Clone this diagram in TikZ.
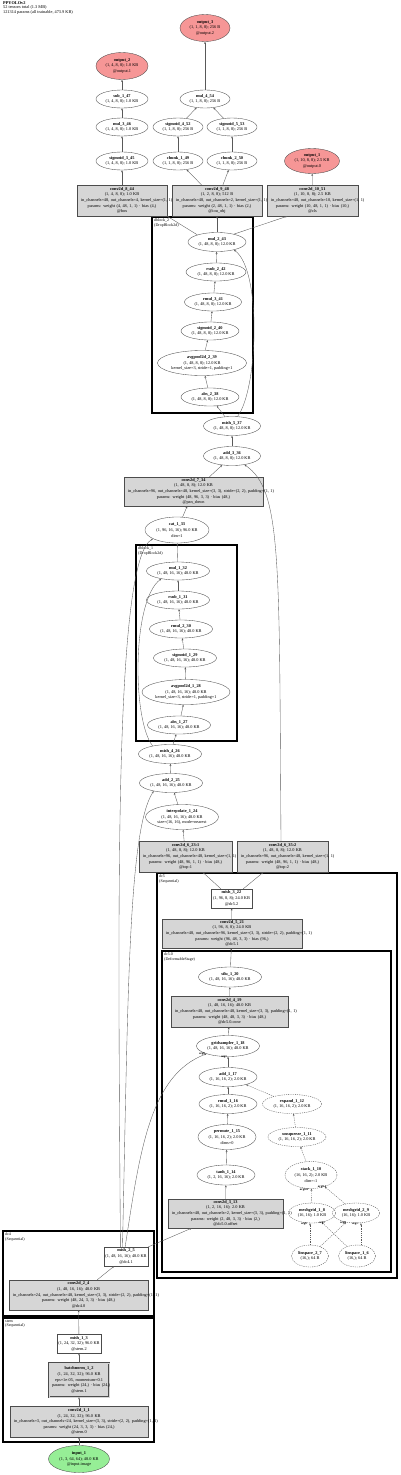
\documentclass[tikz,border=0pt]{standalone}
\usepackage{fontspec}
\setmainfont{Liberation Serif}
\usetikzlibrary{shapes.geometric,arrows.meta}
\definecolor{boxgray}{RGB}{214,214,214}
\definecolor{outred}{RGB}{246,150,150}
\definecolor{ingreen}{RGB}{150,238,150}
\newcommand\fs{\fontsize{4.3}{5.6}\selectfont}
\newcommand\fc{\fontsize{4}{4.4}\selectfont}
\tikzset{
  base/.style={draw=black!70, line width=0.35pt, font=\fs, align=center, inner sep=0pt},
  ell/.style 2 args={base, ellipse, minimum width=#1, minimum height=#2},
  box/.style n args={3}{base, rectangle, fill=boxgray, minimum width=#1pt, text width=#2pt, minimum height=#3pt},
  wbox/.style 2 args={base, rectangle, fill=white, minimum width=#1pt, minimum height=#2pt},
  buf/.style={dashed, dash pattern=on 1.2pt off 1pt},
  edge/.style={draw=black!65, line width=0.35pt, -{Stealth[length=2.2pt,width=1.8pt]}},
  bedge/.style={edge, dash pattern=on 1.2pt off 1pt},
  cluster/.style={draw=black, line width=1.2pt},
  clab/.style={font=\fc, anchor=north west, align=left, inner sep=0pt},
  elab/.style={font=\fontsize{3}{3.2}\selectfont\bfseries, inner sep=0pt}
}
\begin{document}
\begin{tikzpicture}[x=1pt,y=-1pt]
\useasboundingbox (0,0) rectangle (400,1475);
\node[clab, font=\fontsize{4.3}{4.4}\selectfont] (title) at (3,1.5) {\textbf{PPYOLOv2}\\52 tensors total (1.3 MB)\\121314 params (all trainable, 473.9 KB)};

% clusters
\draw[cluster] (152,217) rectangle (253,413);
\node[clab] (lab2) at (154,219) {dblock\_2\\(DropBlock2d)};
\draw[cluster] (136,545) rectangle (237,741);
\node[clab] (lab1) at (138,547) {dblock\_1\\(DropBlock2d)};
\draw[cluster] (157,873) rectangle (397,1278);
\node[clab] (labdc5) at (159,875) {dc5\\(Sequential)};
\draw[cluster] (162,951) rectangle (391,1272);
\node[clab] (labdc50) at (164,953) {dc5.0\\(DeformableStage)};
\draw[cluster] (3,1231) rectangle (154,1316);
\node[clab] (labdc4) at (5,1233) {dc4\\(Sequential)};
\draw[cluster] (3,1318) rectangle (154,1442);
\node[clab] (labstem) at (5,1320) {stem\\(Sequential)};

% top
\node[ell={50}{27}, fill=outred] (o3) at (205,28) {\textbf{output\_3}\\(1, 1, 8, 8); 256 B\\@output.2};
\node[ell={52}{27}, fill=outred] (o2) at (122,66) {\textbf{output\_2}\\(1, 4, 8, 8); 1.0 KB\\@output.1};
\node[ell={52}{18}] (sub47) at (122,99) {\textbf{sub\_1\_47}\\(1, 4, 8, 8); 1.0 KB};
\node[ell={50}{18}] (mul54) at (205,99) {\textbf{mul\_4\_54}\\(1, 1, 8, 8); 256 B};
\node[ell={52}{18}] (mul46) at (122,127) {\textbf{mul\_3\_46}\\(1, 4, 8, 8); 1.0 KB};
\node[ell={50}{18}] (sig52) at (178,127) {\textbf{sigmoid\_4\_52}\\(1, 1, 8, 8); 256 B};
\node[ell={50}{18}] (sig53) at (232,127) {\textbf{sigmoid\_5\_53}\\(1, 1, 8, 8); 256 B};
\node[ell={52}{18}] (sig45) at (122,161) {\textbf{sigmoid\_3\_45}\\(1, 4, 8, 8); 1.0 KB};
\node[ell={50}{18}] (ch49) at (178,161) {\textbf{chunk\_1\_49}\\(1, 1, 8, 8); 256 B};
\node[ell={50}{18}] (ch50) at (232,161) {\textbf{chunk\_2\_50}\\(1, 1, 8, 8); 256 B};
\node[ell={55}{25}, fill=outred] (o1) at (312,161) {\textbf{output\_1}\\(1, 10, 8, 8); 2.5 KB\\@output.0};
\node[box={90}{82}{31}] (c8) at (122,200.5) {\textbf{conv2d\_8\_44}\\(1, 4, 8, 8); 1.0 KB\\\mbox{in\_channels=48, out\_channels=4, kernel\_size=(1, 1)}\\params: weight (4, 48, 1, 1) · bias (4,)\\@box};
\node[box={90}{82}{31}] (c9) at (217,200.5) {\textbf{conv2d\_9\_48}\\(1, 2, 8, 8); 512 B\\\mbox{in\_channels=48, out\_channels=2, kernel\_size=(1, 1)}\\params: weight (2, 48, 1, 1) · bias (2,)\\@iou\_obj};
\node[box={91}{83}{31}] (c10) at (312.5,200.5) {\textbf{conv2d\_10\_51}\\(1, 10, 8, 8); 2.5 KB\\\mbox{in\_channels=48, out\_channels=10, kernel\_size=(1, 1)}\\params: weight (10, 48, 1, 1) · bias (10,)\\@cls};

% dblock_2
\node[ell={58}{19}] (mul43) at (217,242) {\textbf{mul\_2\_43}\\(1, 48, 8, 8); 12.0 KB};
\node[ell={60}{18}] (rsub42) at (216,272) {\textbf{rsub\_2\_42}\\(1, 48, 8, 8); 12.0 KB};
\node[ell={57}{18}] (rmul41) at (213,302) {\textbf{rmul\_3\_41}\\(1, 48, 8, 8); 12.0 KB};
\node[ell={58}{18}] (sig40) at (210,331) {\textbf{sigmoid\_2\_40}\\(1, 48, 8, 8); 12.0 KB};
\node[ell={89}{25}] (avg39) at (202,363) {\textbf{avgpool2d\_2\_39}\\(1, 48, 8, 8); 12.0 KB\\kernel\_size=3, stride=1, padding=1};
\node[ell={58}{18}] (abs38) at (210,397) {\textbf{abs\_2\_38}\\(1, 48, 8, 8); 12.0 KB};
\node[ell={57}{19}] (mish37) at (232,426) {\textbf{mish\_5\_37}\\(1, 48, 8, 8); 12.0 KB};
\node[ell={57}{19}] (add36) at (232,456) {\textbf{add\_3\_36}\\(1, 48, 8, 8); 12.0 KB};
\node[box={139}{131}{29}] (c7) at (193.5,491.5) {\textbf{conv2d\_7\_34}\\(1, 48, 8, 8); 12.0 KB\\\mbox{in\_channels=96, out\_channels=48, kernel\_size=(3, 3), stride=(2, 2), padding=(1, 1)}\\params: weight (48, 96, 3, 3) · bias (48,)\\@pan\_down};
\node[ell={64}{26}] (cat33) at (177,530) {\textbf{cat\_1\_33}\\(1, 96, 16, 16); 96.0 KB\\dim=1};

% dblock_1
\node[ell={63}{18}] (mul32) at (178,571) {\textbf{mul\_1\_32}\\(1, 48, 16, 16); 48.0 KB};
\node[ell={63}{18}] (rsub31) at (178,600) {\textbf{rsub\_1\_31}\\(1, 48, 16, 16); 48.0 KB};
\node[ell={63}{18}] (rmul30) at (181,629) {\textbf{rmul\_2\_30}\\(1, 48, 16, 16); 48.0 KB};
\node[ell={63}{18}] (sig29) at (185,658) {\textbf{sigmoid\_1\_29}\\(1, 48, 16, 16); 48.0 KB};
\node[ell={88}{25}] (avg28) at (186,692) {\textbf{avgpool2d\_1\_28}\\(1, 48, 16, 16); 48.0 KB\\kernel\_size=3, stride=1, padding=1};
\node[ell={63}{18}] (abs27) at (179,725) {\textbf{abs\_1\_27}\\(1, 48, 16, 16); 48.0 KB};
\node[ell={63}{19}] (mish26) at (170,754) {\textbf{mish\_4\_26}\\(1, 48, 16, 16); 48.0 KB};
\node[ell={63}{19}] (add25) at (171,783) {\textbf{add\_2\_25}\\(1, 48, 16, 16); 48.0 KB};
\node[ell={73}{25}] (interp24) at (182,817) {\textbf{interpolate\_1\_24}\\(1, 48, 16, 16); 48.0 KB\\size=(16, 16), mode=nearest};
\node[box={93}{85}{31}] (c6a) at (185.5,856.5) {\textbf{conv2d\_6\_23:1}\\(1, 48, 8, 8); 12.0 KB\\\mbox{in\_channels=96, out\_channels=48, kernel\_size=(1, 1)}\\params: weight (48, 96, 1, 1) · bias (48,)\\@top:1};
\node[box={91}{83}{31}] (c6b) at (282.5,856.5) {\textbf{conv2d\_6\_35:2}\\(1, 48, 8, 8); 12.0 KB\\\mbox{in\_channels=96, out\_channels=48, kernel\_size=(1, 1)}\\params: weight (48, 96, 1, 1) · bias (48,)\\@top:2};

% dc5
\node[wbox={41}{19}] (mish22) at (231.5,898.5) {\textbf{mish\_3\_22}\\(1, 96, 8, 8); 24.0 KB\\@dc5.2};
\node[box={140}{132}{29}] (c5) at (232,933.5) {\textbf{conv2d\_5\_21}\\(1, 96, 8, 8); 24.0 KB\\\mbox{in\_channels=48, out\_channels=96, kernel\_size=(3, 3), stride=(2, 2), padding=(1, 1)}\\params: weight (96, 48, 3, 3) · bias (96,)\\@dc5.1};
\node[ell={63}{20}] (silu20) at (230,977) {\textbf{silu\_1\_20}\\(1, 48, 16, 16); 48.0 KB};
\node[box={117}{109}{31}] (c4) at (229.5,1011.5) {\textbf{conv2d\_4\_19}\\(1, 48, 16, 16); 48.0 KB\\\mbox{in\_channels=48, out\_channels=48, kernel\_size=(3, 3), padding=(1, 1)}\\params: weight (48, 48, 3, 3) · bias (48,)\\@dc5.0.conv};
\node[ell={63}{21}] (gs18) at (228,1046) {\textbf{gridsampler\_1\_18}\\(1, 48, 16, 16); 48.0 KB};
\node[ell={58}{19}] (add17) at (228,1077) {\textbf{add\_1\_17}\\(1, 16, 16, 2); 2.0 KB};
\node[ell={58}{19}] (rmul16) at (228,1104) {\textbf{rmul\_1\_16}\\(1, 16, 16, 2); 2.0 KB};
\node[ell={59}{19}, buf] (exp12) at (292,1104) {\textbf{expand\_1\_12}\\(1, 16, 16, 2); 2.0 KB};
\node[ell={58}{25}] (perm15) at (227,1137) {\textbf{permute\_1\_15}\\(1, 16, 16, 2); 2.0 KB\\dims=0};
\node[ell={58}{19}, buf] (unsq11) at (297,1137) {\textbf{unsqueeze\_1\_11}\\(1, 16, 16, 2); 2.0 KB};
\node[ell={58}{20}] (tanh14) at (226,1175) {\textbf{tanh\_1\_14}\\(1, 2, 16, 16); 2.0 KB};
\node[ell={52}{27}, buf] (stack10) at (311,1175) {\textbf{stack\_1\_10}\\(16, 16, 2); 2.0 KB\\dim=-1};
\node[box={115}{107}{29}] (c3) at (225.5,1213.5) {\textbf{conv2d\_3\_13}\\(1, 2, 16, 16); 2.0 KB\\\mbox{in\_channels=48, out\_channels=2, kernel\_size=(3, 3), padding=(1, 1)}\\params: weight (2, 48, 3, 3) · bias (2,)\\@dc5.0.offset};
\node[ell={47}{20}, buf] (mg8) at (312,1213) {\textbf{meshgrid\_1\_8}\\(16, 16); 1.0 KB};
\node[ell={47}{20}, buf] (mg9) at (356,1213) {\textbf{meshgrid\_2\_9}\\(16, 16); 1.0 KB};
\node[ell={37}{22}, buf] (ls7) at (310,1256) {\textbf{linspace\_2\_7}\\(16,); 64 B};
\node[ell={37}{22}, buf] (ls6) at (357,1256) {\textbf{linspace\_1\_6}\\(16,); 64 B};

% dc4, stem
\node[wbox={44}{19}] (mish5) at (126,1256.5) {\textbf{mish\_2\_5}\\(1, 48, 16, 16); 48.0 KB\\@dc4.1};
\node[box={139}{131}{30}] (c2) at (78.5,1295) {\textbf{conv2d\_2\_4}\\(1, 48, 16, 16); 48.0 KB\\\mbox{in\_channels=24, out\_channels=48, kernel\_size=(3, 3), stride=(2, 2), padding=(1, 1)}\\params: weight (48, 24, 3, 3) · bias (48,)\\@dc4.0};
\node[wbox={44}{19}] (mish3) at (79,1343.5) {\textbf{mish\_1\_3}\\(1, 24, 32, 32); 96.0 KB\\@stem.2};
\node[box={60}{54}{34}, double=boxgray, double distance=0.7pt] (bn2) at (79,1380) {\textbf{batchnorm\_1\_2}\\(1, 24, 32, 32); 96.0 KB\\eps=1e-05, momentum=0.1\\\mbox{params: weight (24,) · bias (24,)}\\@stem.1};
\node[box={138}{130}{31}] (c1) at (79,1421.5) {\textbf{conv2d\_1\_1}\\(1, 24, 32, 32); 96.0 KB\\\mbox{in\_channels=3, out\_channels=24, kernel\_size=(3, 3), stride=(2, 2), padding=(1, 1)}\\params: weight (24, 3, 3, 3) · bias (24,)\\@stem.0};
\node[ell={61}{27}, fill=ingreen] (in1) at (79,1459) {\textbf{input\_1}\\(1, 3, 64, 64); 48.0 KB\\@input.image};

% edges
\draw[edge] (in1) -- (c1);
\draw[edge] (c1) -- (bn2);
\draw[edge] (bn2) -- (mish3);
\draw[edge] (mish3) -- (c2);
\draw[edge] (c2) -- (mish5);
\draw[edge] (mish5) -- (c3);
\draw[edge] (mish5.95) .. controls (140,1150) and (150,1075) .. (gs18.200);
\draw[edge] (mish5.110) .. controls (128,1000) and (128,830) .. (add25.205);
\draw[edge] (mish5.120) .. controls (118,900) and (114,560) .. (cat33.200);
\draw[edge] (c3) -- (tanh14);
\draw[edge] (tanh14) -- (perm15);
\draw[edge] (perm15) -- (rmul16);
\draw[edge] (rmul16) -- (add17);
\draw[bedge] (ls7.north) -- (mg8.south -| ls7.north);
\draw[bedge] (ls7) -- (mg9);
\draw[bedge] (ls6) -- (mg8);
\draw[bedge] (ls6.70) -- (mg9.south -| ls6.70);
\draw[bedge] (mg8) -- (stack10);
\draw[bedge] (mg9) -- (stack10);
\draw[bedge] (stack10) -- (unsq11);
\draw[bedge] (unsq11) -- (exp12);
\draw[bedge] (exp12) -- (add17);
\draw[edge] (add17) -- (gs18);
\draw[edge] (gs18) -- (c4);
\draw[edge] (c4) -- (silu20);
\draw[edge] (silu20) -- (c5);
\draw[edge] (c5) -- (mish22);
\draw[edge] (mish22) -- (c6a);
\draw[edge] (mish22) -- (c6b);
\draw[edge] (c6a) -- (interp24);
\draw[edge] (interp24) -- (add25);
\draw[edge] (add25) -- (mish26);
\draw[edge] (mish26) -- (abs27);
\draw[edge] (mish26.155) .. controls (132,720) and (132,600) .. (mul32.205);
\draw[edge] (abs27) -- (avg28);
\draw[edge] (avg28) -- (sig29);
\draw[edge] (sig29) -- (rmul30);
\draw[edge] (rmul30) -- (rsub31);
\draw[edge] (rsub31) -- (mul32);
\draw[edge] (mul32) -- (cat33);
\draw[edge] (cat33) -- (c7);
\draw[edge] (c7) -- (add36);
\draw[edge] (c6b.north -| 281,0) .. controls (279,560) and (282,490) .. (add36.-35);
\draw[edge] (add36) -- (mish37);
\draw[edge] (mish37) -- (abs38);
\draw[edge] (mish37.60) .. controls (258,390) and (262,270) .. (mul43.-25);
\draw[edge] (abs38) -- (avg39);
\draw[edge] (avg39) -- (sig40);
\draw[edge] (sig40) -- (rmul41);
\draw[edge] (rmul41) -- (rsub42);
\draw[edge] (rsub42) -- (mul43);
\draw[edge] (mul43.160) -- (c8.south east);
\draw[edge] (mul43) -- (c9);
\draw[edge] (mul43.25) -- (c10.-148);
\draw[edge] (c8) -- (sig45);
\draw[edge] (sig45) -- (mul46);
\draw[edge] (mul46) -- (sub47);
\draw[edge] (sub47) -- (o2);
\draw[edge] (c9) -- (ch49);
\draw[edge] (c9) -- (ch50);
\draw[edge] (ch49) -- (sig52);
\draw[edge] (ch50) -- (sig53);
\draw[edge] (sig52) -- (mul54);
\draw[edge] (sig53) -- (mul54);
\draw[edge] (mul54) -- (o3);
\draw[edge] (c10) -- (o1);

% edge labels
\node[elab] (l1) at (202,1054) {arg0};
\node[elab] (l2) at (224,1057) {arg1};
\node[elab] (l3) at (304,1190) {arg0.0};
\node[elab] (l4) at (322,1187) {arg0.1};
\node[elab] (l5) at (304,1224) {arg0};
\node[elab] (l6) at (322,1223) {arg1};
\node[elab] (l7) at (343,1223) {arg0};
\node[elab] (l8) at (355,1224) {arg1};
\end{tikzpicture}
\end{document}
